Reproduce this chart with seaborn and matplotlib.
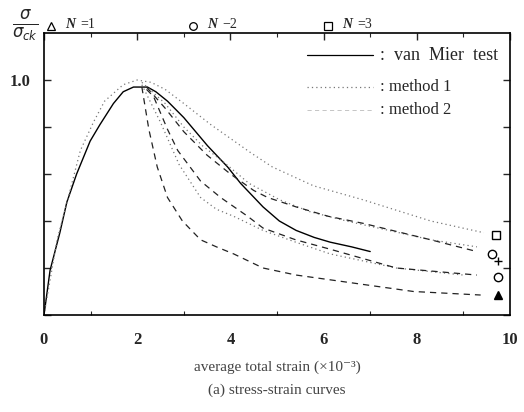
import matplotlib
matplotlib.use("Agg")
import matplotlib.pyplot as plt
import seaborn as sns
import pandas as pd
from matplotlib.ticker import MultipleLocator

# ---- data ----
test_strain = [0, 0.13, 0.34, 0.49, 0.7, 0.99, 1.2, 1.49, 1.7, 1.92, 2.22, 2.4, 2.65, 3.0, 3.51, 3.94, 4.22,
               4.7, 5.05, 5.41, 5.8, 6.14, 6.6, 7.0]
test_stress = [0, 0.19, 0.35, 0.48, 0.60, 0.74, 0.81, 0.90, 0.95, 0.97, 0.97, 0.95, 0.91, 0.84, 0.72, 0.63, 0.56,
               0.46, 0.40, 0.36, 0.33, 0.31, 0.29, 0.27]

m1_n3_strain = [0, 0.28, 0.52, 0.78, 1.06, 1.3, 1.7, 2.0, 2.3, 2.6, 3.0, 3.58, 4.44, 4.9, 5.78, 6.85, 8.3, 9.44]
m1_n3_stress = [0, 0.32, 0.50, 0.70, 0.82, 0.91, 0.98, 1.0, 0.99, 0.96, 0.90, 0.81, 0.69, 0.63, 0.55, 0.49, 0.40,
                0.35]
m1_n2_strain = [2.1, 2.6, 3.0, 3.4, 3.86, 4.4, 5.06, 5.7, 6.49, 7.4, 8.3, 9.29]
m1_n2_stress = [0.99, 0.90, 0.80, 0.72, 0.65, 0.56, 0.49, 0.44, 0.40, 0.36, 0.32, 0.29]
m1_n1_strain = [2.1, 2.5, 2.9, 3.36, 3.7, 4.07, 4.7, 5.4, 6.14, 7.56, 9.0]
m1_n1_stress = [0.98, 0.82, 0.64, 0.50, 0.45, 0.42, 0.36, 0.31, 0.26, 0.20, 0.17]

m2_n1_strain = [2.1, 2.25, 2.43, 2.65, 2.97, 3.36, 3.7, 4.07, 4.7, 5.41, 6.85, 7.93, 9.37]
m2_n1_stress = [0.97, 0.79, 0.63, 0.50, 0.40, 0.32, 0.29, 0.26, 0.20, 0.17, 0.13, 0.10, 0.085]
m2_n2_strain = [2.2, 2.35, 2.65, 2.87, 3.36, 3.79, 4.37, 4.7, 5.4, 6.14, 7.56, 9.29]
m2_n2_stress = [0.96, 0.93, 0.79, 0.70, 0.57, 0.50, 0.42, 0.37, 0.32, 0.28, 0.20, 0.17]
m2_n3_strain = [2.2, 2.6, 3.0, 3.5, 4.0, 4.5, 4.8, 5.41, 6.1, 6.85, 8.3, 9.29]
m2_n3_stress = [0.97, 0.88, 0.78, 0.68, 0.60, 0.53, 0.50, 0.46, 0.42, 0.39, 0.32, 0.27]

end_marker_x = [9.7, 9.61, 9.74, 9.74]
end_marker_y = [0.34, 0.26, 0.16, 0.085]
end_marker_shape = ["s", "o", "o", "^"]
end_marker_fill = ["none", "none", "none", "black"]

n_labels = ["=1", "\u22122", "=3"]
n_marker_x = [0.15, 3.2, 6.1]
n_marker_shape = ["^", "o", "s"]

legend_labels = [":  van  Mier  test", ": method 1", ": method 2"]
xtick_labels = ["0", "2", "4", "6", "8", "10"]

# ---- figure ----
sns.set_style("white")
plt.rcParams["font.family"] = ["Liberation Serif", "DejaVu Serif"]
fig = plt.figure(figsize=(5.24, 4.12), dpi=100)
ax = fig.add_axes([44 / 524, 1 - 315 / 412, (510 - 44) / 524, (315 - 33) / 412])

dot_style = dict(color="#777777", linewidth=0.9, linestyle=(0, (1, 2.5)))
dash_style = dict(color="#222222", linewidth=0.9, linestyle=(0, (5, 4)))

def draw(xs, ys, style):
    df = pd.DataFrame({"strain": xs, "stress": ys})
    sns.lineplot(data=df, x="strain", y="stress", ax=ax, sort=False, estimator=None, **style)

draw(test_strain, test_stress, dict(color="black", linewidth=1.0, linestyle="-"))
for xs, ys in [(m1_n3_strain, m1_n3_stress), (m1_n2_strain, m1_n2_stress), (m1_n1_strain, m1_n1_stress)]:
    draw(xs, ys, dot_style)
for xs, ys in [(m2_n1_strain, m2_n1_stress), (m2_n2_strain, m2_n2_stress), (m2_n3_strain, m2_n3_stress)]:
    draw(xs, ys, dash_style)

for x, y, m, fc in zip(end_marker_x, end_marker_y, end_marker_shape, end_marker_fill):
    ax.plot([x], [y], marker=m, markersize=6, markerfacecolor=fc, markeredgecolor="black",
            markeredgewidth=1.0, linestyle="none", clip_on=False)
ax.plot([9.74], [0.23], marker="+", markersize=6, color="black", linestyle="none")

# top N markers
for x, m, lab in zip(n_marker_x, n_marker_shape, n_labels):
    ax.plot([x], [1.2 + 0.03], marker=m, markersize=5.5, markerfacecolor="none",
            markeredgecolor="black", markeredgewidth=0.9, linestyle="none", clip_on=False)
    ax.text(x + 0.3, 1.2 + 0.035, "N", ha="left", va="center", fontsize=10,
            style="italic", fontweight="bold")
    ax.text(x + 0.62, 1.2 + 0.035, lab, ha="left", va="center", fontsize=10)

# legend (drawn manually)
leg_y = [1.106, 0.97, 0.872]
leg_sizes = [13, 12, 12]
leg_styles = [dict(color="black", linewidth=0.9, linestyle="-"),
              dict(color="#777777", linewidth=0.9, linestyle=(0, (1, 2.5))),
              dict(color="#bbbbbb", linewidth=0.6, linestyle=(0, (5, 4)))]
for y, lab, st, fs in zip(leg_y, legend_labels, leg_styles, leg_sizes):
    ax.plot([5.65, 7.05], [y, y], **st)
    ax.text(7.2, y, lab, ha="left", va="center", fontsize=fs)

ax.set_xlim(0, 10)
ax.set_ylim(0, 1.2)
ax.set_xticks([0, 2, 4, 6, 8, 10])
ax.set_xticklabels(xtick_labels, fontsize=12, fontweight="bold")
ax.xaxis.set_minor_locator(MultipleLocator(1))
ax.set_yticks([0, 0.2, 0.4, 0.6, 0.8, 1.0])
ax.set_yticklabels(["", "", "", "", "", "1.0"], fontsize=12, fontweight="bold")
ax.tick_params(direction="in", top=True, right=True, length=5, width=1.0, pad=12, which="major", axis="x")
ax.tick_params(direction="in", left=True, right=True, length=5, width=1.0, pad=10, which="major", axis="y")
ax.tick_params(direction="in", top=True, right=True, length=3, width=0.8, which="minor", bottom=True)
for s in ax.spines.values():
    s.set_linewidth(1.2)
    s.set_color("black")
ax.set_xlabel("")
ax.set_ylabel("")

fig.text(25 / 524, 1 - 26 / 412, r"$\frac{\sigma}{\sigma_{ck}}$", fontsize=17, ha="center", va="center")
fig.text(277 / 524, 1 - 367 / 412, "average total strain (\u00d710\u207b\u00b3)", ha="center", va="center",
         fontsize=11, color="#444444")
fig.text(277 / 524, 1 - 390 / 412, "(a) stress-strain curves", ha="center", va="center",
         fontsize=11, color="#444444")

fig.savefig("out.png", dpi=100)
